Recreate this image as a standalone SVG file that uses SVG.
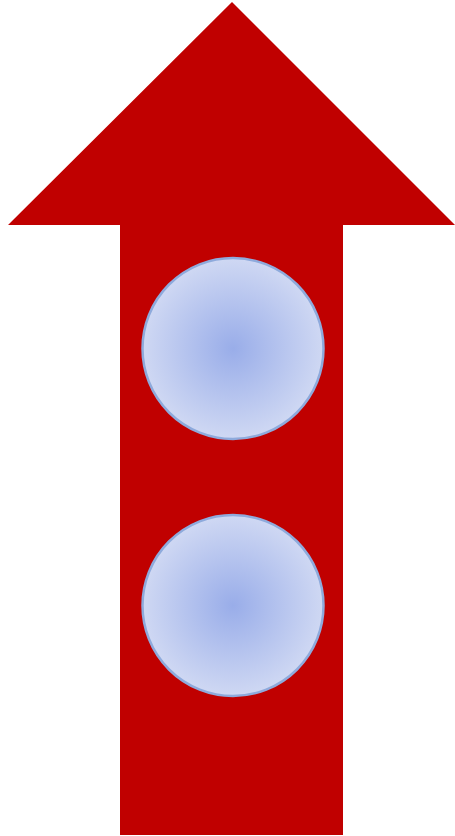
<svg xmlns="http://www.w3.org/2000/svg" width="455" height="836" viewBox="0 0 455 836">
<style>
.arrow{fill:#c00000;stroke:none}
.ball{fill:url(#g);stroke:#8eaadc;stroke-width:2.5}
</style>
<defs>
<radialGradient id="g" cx="50%" cy="50%" r="50%">
<stop offset="0" stop-color="#99ade9"/>
<stop offset="1" stop-color="#cfd8f3"/>
</radialGradient>
</defs>
<g id="arrow">
<polygon class="arrow" points="232,2 455,225 343,225 343,835 120,835 120,225 8,225"/>
</g>
<g id="circle1"><circle class="ball" cx="233" cy="348.5" r="90.5"/></g>
<g id="circle2"><circle class="ball" cx="233" cy="605.5" r="90.5"/></g>
<g id="connectors"/>
</svg>
